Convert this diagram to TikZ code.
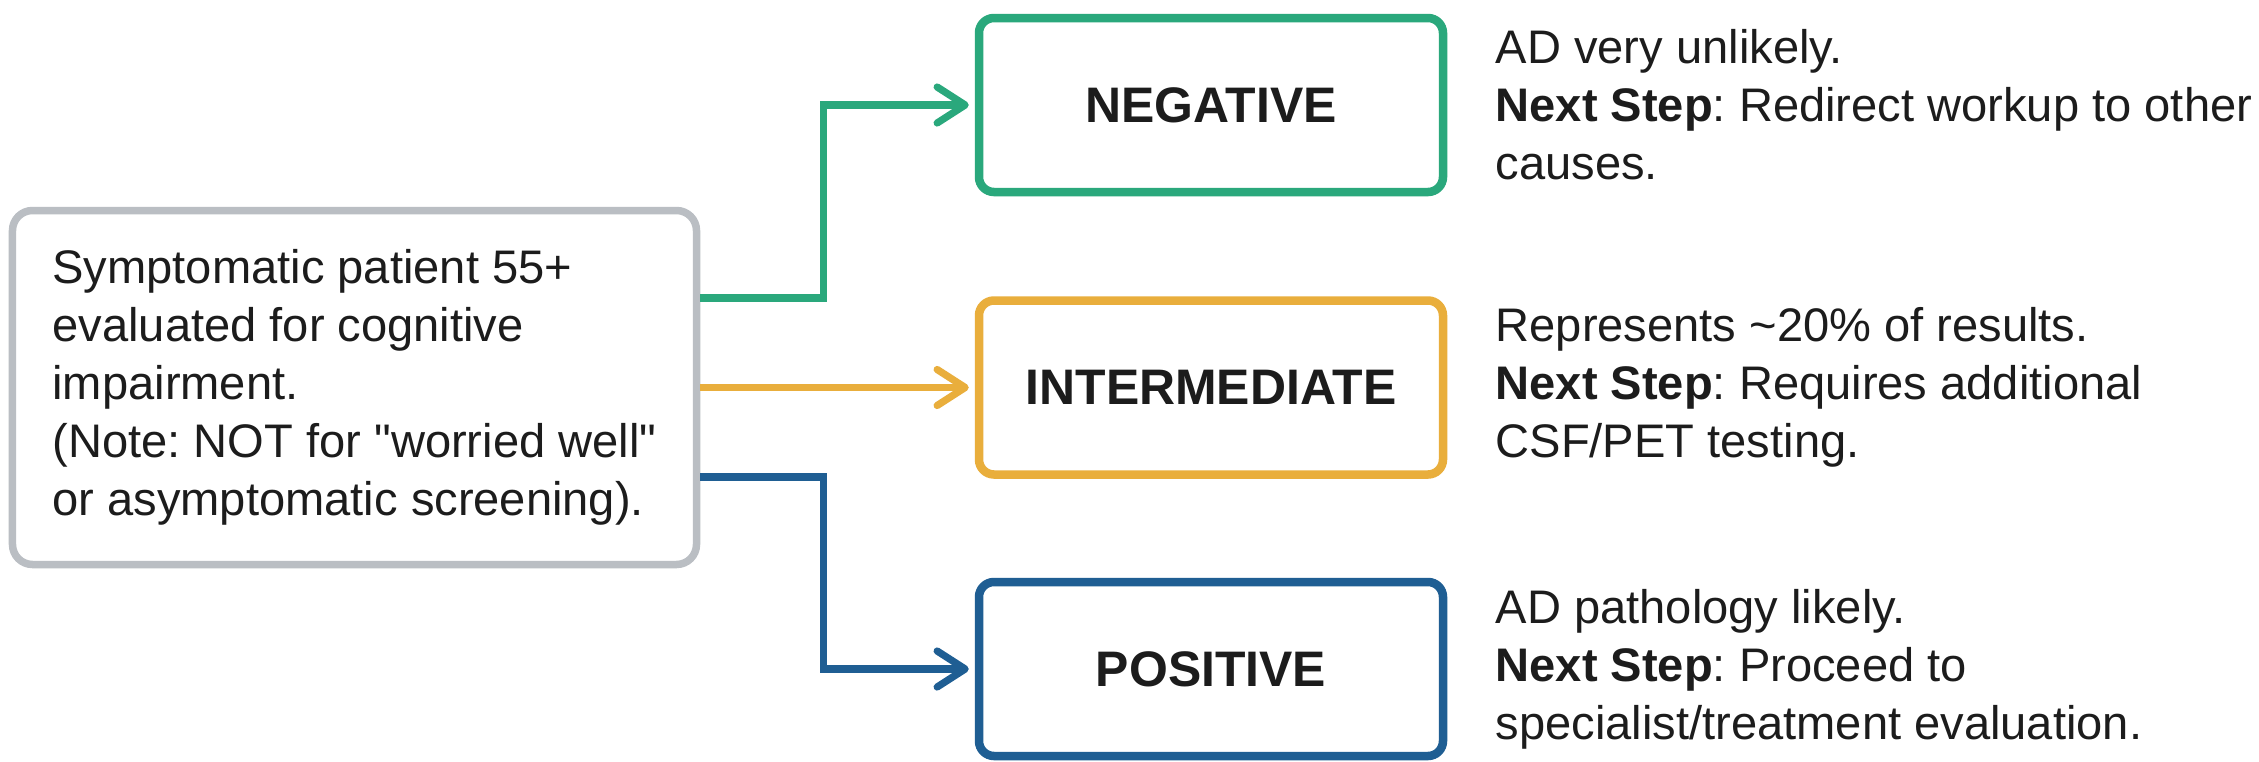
\documentclass[tikz,border=0pt]{standalone}
\usepackage{fontspec}
\setmainfont{Liberation Sans}[Ligatures=TeXOff]
\usetikzlibrary{arrows.meta}
\definecolor{negc}{HTML}{2AA87C}
\definecolor{midc}{HTML}{E9AE3C}
\definecolor{posc}{HTML}{1F5E93}
\definecolor{rahmen}{HTML}{BABEC3}
\definecolor{schrift}{HTML}{1C1C1C}
\frenchspacing
\tikzset{
  pfeil/.style={-{Straight Barb[length=2.8mm,width=3.6mm,round]},line width=0.72mm,shorten >=0.6mm},
  ergebnis/.style={draw,line width=0.85mm,rounded corners=1.5mm,fill=white,text=schrift,
    minimum width=46.4mm,minimum height=17.4mm,inner sep=0pt,font=\fontsize{14.2}{17}\selectfont\bfseries},
  patient/.style={draw=rahmen,line width=0.75mm,rounded corners=2mm,fill=white,text=schrift,
    minimum width=68.4mm,minimum height=35.4mm,align=left,font=\fontsize{13.4}{16.5}\selectfont},
  hinweis/.style={anchor=west,align=left,inner sep=0pt,text=schrift,font=\fontsize{13.4}{16.5}\selectfont},
}
\begin{document}
\begin{tikzpicture}
  \useasboundingbox[fill=white] (0,0) rectangle (22.59,7.61);
  \node[patient] (pat) at (3.545,3.735) {Symptomatic patient 55+\\ evaluated for cognitive\\ impairment.\\ (Note: NOT for "worried well"\\ or asymptomatic screening).};
  \node[ergebnis,draw=negc] (neg) at (12.11,6.56) {NEGATIVE};
  \node[ergebnis,draw=midc] (mid) at (12.11,3.735) {INTERMEDIATE};
  \node[ergebnis,draw=posc] (pos) at (12.11,0.92) {POSITIVE};
  \draw[pfeil,negc] ([yshift=8.95mm]pat.east) -- ++(1.23,0) |- (neg.west);
  \draw[pfeil,midc] (pat.east) -- (mid.west);
  \draw[pfeil,posc] ([yshift=-8.95mm]pat.east) -- ++(1.23,0) |- (pos.west);
  \node[hinweis] (negtxt) at (14.95,6.56) {AD very unlikely.\\ \textbf{Next Step}: Redirect workup to other\\ causes.};
  \node[hinweis] (midtxt) at (14.95,3.735) {Represents \textasciitilde20\% of results.\\ \textbf{Next Step}: Requires additional\\ CSF/PET testing.};
  \node[hinweis] (postxt) at (14.95,0.92) {AD pathology likely.\\ \textbf{Next Step}: Proceed to\\ specialist/treatment evaluation.};
\end{tikzpicture}
\end{document}
